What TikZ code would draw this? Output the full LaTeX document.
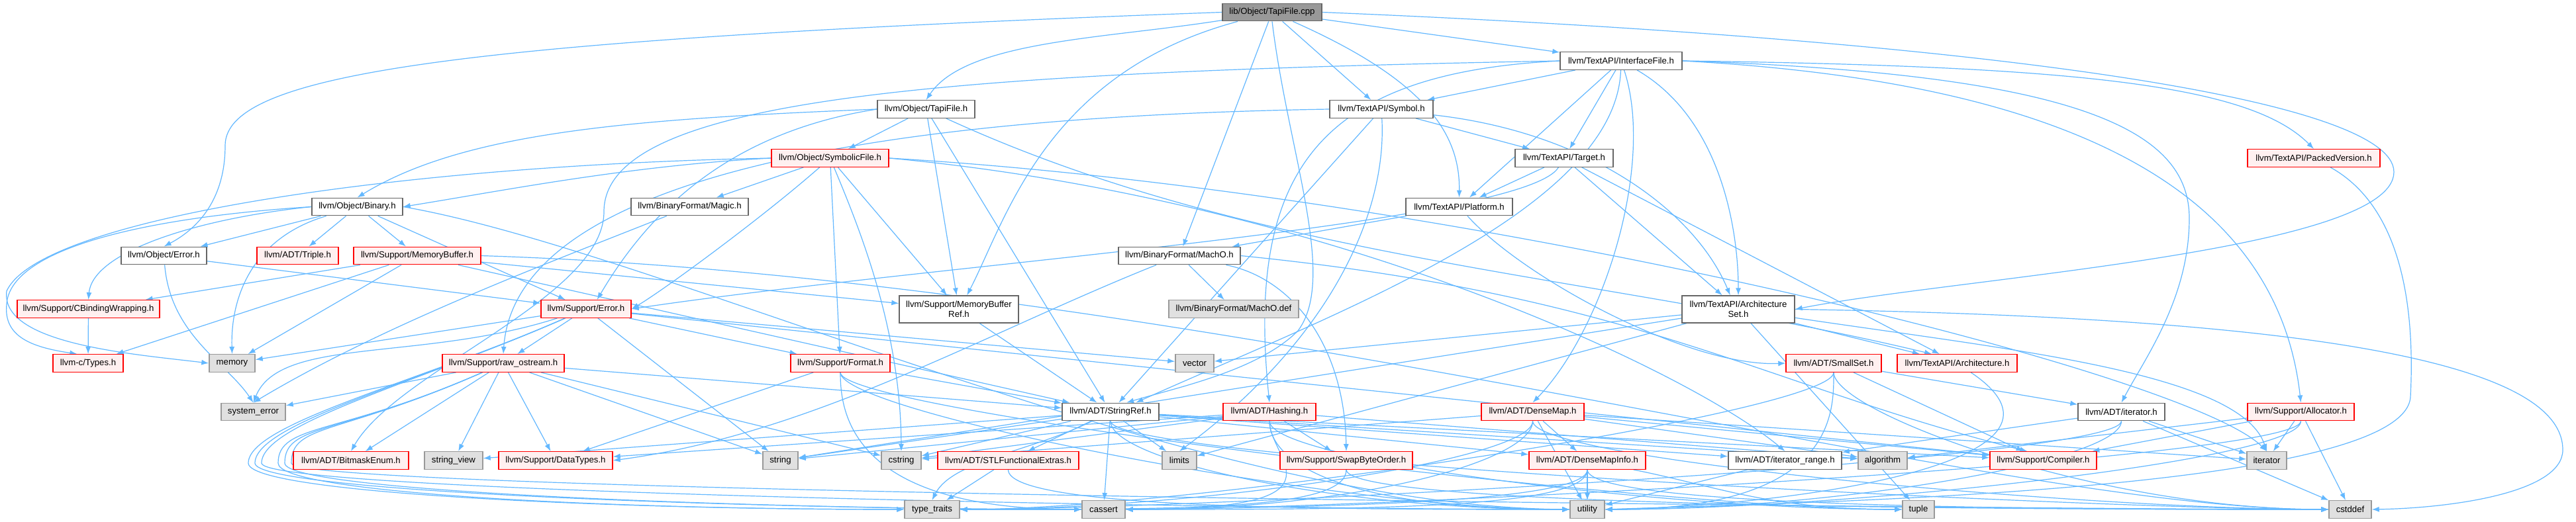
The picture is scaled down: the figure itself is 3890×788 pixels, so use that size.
\documentclass[tikz,border=0pt]{standalone}
\usepackage{fontspec}
\setmainfont{Liberation Sans}
\usetikzlibrary{arrows.meta}
\definecolor{edgeblue}{RGB}{99,184,255}
\definecolor{redfill}{HTML}{FFF0F0}
\definecolor{grayfill}{HTML}{E0E0E0}
\definecolor{grayline}{HTML}{999999}
\definecolor{darkline}{HTML}{666666}
\definecolor{rootfill}{HTML}{999999}
\definecolor{redline}{HTML}{FF0000}
\pgfdeclarelayer{bg}
\pgfsetlayers{bg,main}
\tikzset{
  nb/.style={draw, rectangle, inner sep=0pt, minimum height=26.5pt, align=center,
    font=\fontsize{13.2}{15}\selectfont, line width=1.4pt, text=black},
  nwhite/.style={nb, fill=white, draw=darkline},
  nred/.style={nb, fill=redfill, draw=redline},
  ngray/.style={nb, fill=grayfill, draw=grayline},
  nroot/.style={nb, fill=rootfill, draw=darkline},
  edg/.style={draw=edgeblue, line width=1.2pt, -{Latex[length=11pt,width=8pt]}},
}
\newcommand{\edgeW}[2]{\draw[edg] (#1.south) .. controls +(0,-60) and +(-350,0) .. (#2.west);}
\newcommand{\edgeE}[2]{\draw[edg] (#1.south) .. controls +(0,-60) and +(350,0) .. (#2.east);}
\newcommand{\edgeLoop}[3]{\draw[edg] (#1) .. controls +(-250,-110) and (#3,-640) .. (#3,-700) .. controls (#3,-745) and +(-450,0) .. (#2.west);}
\begin{document}
\begin{tikzpicture}[x=1pt,y=1pt]
\useasboundingbox (0,0) rectangle (3890,-788);
% nodes
\node[nroot, minimum width=150] (cpp) at (1921,-18.5) {lib/Object/TapiFile.cpp};
\node[nwhite, minimum width=184] (ifile) at (2448,-92) {llvm/TextAPI/InterfaceFile.h};
\node[nwhite, minimum width=147] (tapih) at (1398.5,-165) {llvm/Object/TapiFile.h};
\node[nwhite, minimum width=156] (symbol) at (2086,-165) {llvm/TextAPI/Symbol.h};
\node[nred, minimum width=177] (symfile) at (1253.5,-239) {llvm/Object/SymbolicFile.h};
\node[nwhite, minimum width=148] (target) at (2362,-239) {llvm/TextAPI/Target.h};
\node[nred, minimum width=200] (packed) at (3494,-239) {llvm/TextAPI/PackedVersion.h};
\node[nwhite, minimum width=137] (binary) at (539.5,-312.5) {llvm/Object/Binary.h};
\node[nwhite, minimum width=177] (magic) at (1041.5,-312.5) {llvm/BinaryFormat/Magic.h};
\node[nwhite, minimum width=161] (platform) at (2203.5,-312.5) {llvm/TextAPI/Platform.h};
\node[nwhite, minimum width=129] (objerr) at (247.5,-386.5) {llvm/Object/Error.h};
\node[nred, minimum width=123] (triple) at (449.5,-386.5) {llvm/ADT/Triple.h};
\node[nred, minimum width=192] (membuf) at (630,-386.5) {llvm/Support/MemoryBuffer.h};
\node[nwhite, minimum width=184] (macho) at (1781,-386.5) {llvm/BinaryFormat/MachO.h};
\node[nred, minimum width=215] (cbind) at (133.5,-467) {llvm/Support/CBindingWrapping.h};
\node[nred, minimum width=136] (superr) at (885,-467) {llvm/Support/Error.h};
\node[nwhite, minimum width=180, minimum height=41] (membufref) at (1448,-467.5) {llvm/Support/MemoryBuffer\\Ref.h};
\node[ngray, minimum width=196] (machodef) at (1863,-467) {llvm/BinaryFormat/MachO.def};
\node[nwhite, minimum width=170, minimum height=41] (archset) at (2625,-467.5) {llvm/TextAPI/Architecture\\Set.h};
\node[nred, minimum width=106] (types) at (133,-549) {llvm-c/Types.h};
\node[ngray, minimum width=69] (memory) at (350.5,-549) {memory};
\node[nred, minimum width=184] (rawos) at (760,-549) {llvm/Support/raw\_ostream.h};
\node[nred, minimum width=150] (format) at (1269,-549) {llvm/Support/Format.h};
\node[ngray, minimum width=58] (vector) at (1804,-549) {vector};
\node[nred, minimum width=144] (smallset) at (2769,-549) {llvm/ADT/SmallSet.h};
\node[nred, minimum width=181] (arch) at (2955.5,-549) {llvm/TextAPI/Architecture.h};
\node[ngray, minimum width=97] (syserr) at (382.5,-622.5) {system\_error};
\node[nwhite, minimum width=146] (stringref) at (1677,-622.5) {llvm/ADT/StringRef.h};
\node[nred, minimum width=140] (hashing) at (1917,-622.5) {llvm/ADT/Hashing.h};
\node[nred, minimum width=155] (densemap) at (2314.5,-622.5) {llvm/ADT/DenseMap.h};
\node[nwhite, minimum width=131] (iterh) at (3203.5,-622.5) {llvm/ADT/iterator.h};
\node[nred, minimum width=161] (alloc) at (3474.5,-622.5) {llvm/Support/Allocator.h};
\node[nred, minimum width=174] (bitmask) at (530,-696) {llvm/ADT/BitmaskEnum.h};
\node[ngray, minimum width=88] (strview) at (685,-696) {string\_view};
\node[nred, minimum width=172] (datatypes) at (839,-696) {llvm/Support/DataTypes.h};
\node[ngray, minimum width=53] (string) at (1178.5,-696) {string};
\node[ngray, minimum width=60] (cstring) at (1361,-696) {cstring};
\node[nred, minimum width=213] (stlfe) at (1522.5,-696) {llvm/ADT/STLFunctionalExtras.h};
\node[ngray, minimum width=52] (limits) at (1781,-696) {limits};
\node[nred, minimum width=200] (swap) at (2033,-696) {llvm/Support/SwapByteOrder.h};
\node[nred, minimum width=176] (dmi) at (2397,-696) {llvm/ADT/DenseMapInfo.h};
\node[nwhite, minimum width=171] (iterrange) at (2695.5,-696) {llvm/ADT/iterator\_range.h};
\node[ngray, minimum width=74] (algorithm) at (2843,-696) {algorithm};
\node[nred, minimum width=161] (compiler) at (3085.5,-696) {llvm/Support/Compiler.h};
\node[ngray, minimum width=60] (iterator) at (3423,-696) {iterator};
\node[ngray, minimum width=83] (typetraits) at (1407.5,-770) {type\_traits};
\node[ngray, minimum width=65] (cassert) at (1666.5,-770) {cassert};
\node[ngray, minimum width=52] (utility) at (2397,-770) {utility};
\node[ngray, minimum width=48] (tuple) at (2897,-770) {tuple};
\node[ngray, minimum width=64] (cstddef) at (3549,-770) {cstddef};
\begin{pgfonlayer}{bg}
\fill[white] (0,0) rectangle (3890,-788);
% cpp
\draw[edg] (cpp.west) .. controls (700,-60) and (340,-110) .. (340,-220) .. controls (340,-300) and (300,-345) .. (objerr.north);
\draw[edg] (cpp) .. controls +(-250,-40) and +(60,90) .. (tapih.north);
\draw[edg] (cpp) -- (macho);
\draw[edg] (cpp) .. controls (1580,-110) and (1520,-330) .. (membufref.60);
\draw[edg] (cpp.south) .. controls (1945,-230) and (2020,-420) .. (1960,-500) .. controls (1900,-560) and (1780,-585) .. (stringref.30);
\draw[edg] (cpp) -- (symbol);
\draw[edg] (cpp) .. controls (2150,-120) and (2205,-200) .. (platform.north);
\draw[edg] (cpp) -- (ifile);
\draw[edg] (cpp.east) .. controls (3000,-60) and (3615,-150) .. (3615,-260) .. controls (3615,-380) and (2950,-420) .. (archset.east);
% ifile
\draw[edg] (ifile) -- (symbol);
\draw[edg] (ifile) -- (target);
\draw[edg] (ifile) -- (platform);
\draw[edg] (ifile) .. controls (2600,-180) and (2625,-350) .. (archset.north);
\draw[edg] (ifile.east) .. controls (3150,-100) and (3400,-130) .. (packed.north);
\draw[edg] (ifile.east) .. controls (3150,-112) and (3306,-200) .. (3306,-330) .. controls (3306,-450) and (3240,-540) .. (iterh.north);
\draw[edg] (ifile.east) .. controls (3150,-125) and (3440,-300) .. (alloc.north);
\draw[edg] (ifile) .. controls (2500,-250) and (2420,-500) .. (densemap.north);
\draw[edg] (ifile) .. controls (2440,-320) and (2000,-480) .. (stringref.20);
\draw[edg] (ifile.west) .. controls (2000,-110) and (1880,-250) .. (hashing.north);
\draw[edg] (ifile.west) .. controls (1400,-110) and (912,-150) .. (912,-320) .. controls (912,-450) and (600,-560) .. (bitmask.north);
% tapih
\draw[edg] (tapih.west) .. controls (950,-180) and (700,-200) .. (binary.north);
\draw[edg] (tapih.west) .. controls (1100,-200) and (980,-320) .. (superr.40);
\draw[edg] (tapih) -- (symfile);
\draw[edg] (tapih) -- (membufref);
\draw[edg] (tapih) -- (stringref);
\draw[edg] (tapih) .. controls +(500,-230) and +(-500,120) .. (arch.160);
% symbol
\draw[edg] (symbol.west) .. controls (1400,-175) and (780,-250) .. (rawos.north);
\draw[edg] (symbol) -- (stringref);
\draw[edg] (symbol) .. controls (2095,-330) and (2000,-520) .. (limits.north);
\draw[edg] (symbol) -- (target);
\draw[edg] (symbol) .. controls (2400,-200) and (2560,-320) .. (archset.120);
% symfile
\draw[edg] (symfile.west) .. controls (950,-250) and (750,-290) .. (binary.east);
\draw[edg] (symfile.west) .. controls (600,-250) and (60,-330) .. (10,-440) .. controls (0,-520) and (200,-535) .. (memory.west);
\draw[edg] (symfile) -- (magic);
\draw[edg] (symfile) .. controls (1150,-330) and (1000,-440) .. (superr.east);
\draw[edg] (symfile) -- (format);
\draw[edg] (symfile) -- (membufref);
\draw[edg] (symfile) .. controls (1300,-350) and (1360,-500) .. (cstring.north);
\draw[edg] (symfile.east) .. controls (2000,-300) and (2550,-560) .. (iterrange.north);
\draw[edg] (symfile.east) .. controls (2200,-290) and (3300,-560) .. (iterator.north);
% binary
\draw[edg] (binary.west) .. controls (200,-330) and (15,-380) .. (10,-460) .. controls (5,-510) and (50,-525) .. (types.140);
\draw[edg] (binary.west) .. controls (300,-330) and (140,-380) .. (cbind.north);
\draw[edg] (binary) -- (objerr);
\draw[edg] (binary) -- (triple);
\draw[edg] (binary) -- (membuf);
\draw[edg] (binary) .. controls (380,-360) and (348,-450) .. (memory.north);
\draw[edg] (binary) -- (superr);
\draw[edg] (binary.east) .. controls (1000,-380) and (1800,-765) .. (utility.west);
% objerr
\draw[edg] (objerr) .. controls +(10,-120) and +(-40,60) .. (syserr.north);
\draw[edg] (objerr) -- (superr);
% membuf
\draw[edg] (membuf) -- (cbind);
\draw[edg] (membuf) -- (types);
\draw[edg] (membuf) -- (memory);
\draw[edg] (membuf) -- (membufref);
\draw[edg] (membuf) -- (stringref);
\draw[edg] (membuf.east) .. controls (1800,-420) and (3000,-770) .. (cstddef.west);
% cbind, magic
\draw[edg] (cbind) -- (types);
\draw[edg] (magic) .. controls +(-200,-80) and +(200,120) .. (syserr.north);
% superr
\draw[edg] (superr) -- (memory);
\draw[edg] (superr) .. controls +(-250,-80) and +(40,100) .. (syserr.north);
\draw[edg] (superr) -- (rawos);
\draw[edg] (superr) -- (format);
\draw[edg] (superr) -- (vector);
\draw[edg] (superr) -- (string);
\draw[edg] (superr) -- (compiler);
\edgeLoop{superr}{typetraits}{375}
\edgeLoop{superr}{cassert}{385}
\edgeLoop{superr}{utility}{395}
% rawos
\draw[edg] (rawos) -- (syserr);
\draw[edg] (rawos) -- (bitmask);
\draw[edg] (rawos) -- (strview);
\draw[edg] (rawos) -- (datatypes);
\draw[edg] (rawos) -- (string);
\draw[edg] (rawos) -- (cstring);
\draw[edg] (rawos) -- (stringref);
\edgeLoop{rawos}{typetraits}{420}
\edgeLoop{rawos}{cassert}{430}
\edgeLoop{rawos}{cstddef}{440}
% format
\draw[edg] (format) -- (stringref);
\draw[edg] (format) -- (datatypes);
\edgeW{format}{cassert}
\edgeW{format}{utility}
\edgeW{format}{tuple}
% membufref
\draw[edg] (membufref) -- (stringref);
% macho
\draw[edg] (macho) -- (machodef);
\draw[edg] (macho) .. controls +(-300,-120) and +(300,40) .. (datatypes.east);
\draw[edg] (macho) .. controls (1950,-420) and (2030,-520) .. (swap.north);
\draw[edg] (macho.east) .. controls +(600,-60) and +(-400,100) .. (compiler.150);
% platform
\draw[edg] (platform) -- (macho);
\draw[edg] (platform) .. controls (2300,-420) and (2550,-555) .. (smallset.west);
% target
\draw[edg] (target) -- (platform);
\draw[edg] (target) .. controls (2300,-340) and (1400,-400) .. (superr.east);
\draw[edg] (target) -- (archset);
\draw[edg] (target) -- (arch);
% packed
\draw[edg] (packed) .. controls (3640,-320) and (3645,-500) .. (3640,-600) .. controls (3630,-745) and (2700,-760) .. (utility.east);
% archset
\draw[edg] (archset) -- (arch);
\draw[edg] (archset) -- (vector);
\draw[edg] (archset) -- (string);
\draw[edg] (archset) -- (limits);
\draw[edg] (archset.east) .. controls (3500,-480) and (3870,-550) .. (3870,-680) .. controls (3870,-745) and (3700,-768) .. (cstddef.east);
\draw[edg] (archset) .. controls +(400,-60) and +(-40,120) .. (iterator.north);
\draw[edg] (archset) -- (tuple);
% smallset
\draw[edg] (smallset) -- (iterh);
\draw[edg] (smallset) -- (compiler);
\edgeW{smallset}{cstddef}
\edgeE{smallset}{typetraits}
\edgeE{smallset}{utility}
% arch
\draw[edg] (arch) .. controls (3180,-700) and (2700,-765) .. (utility.east);
% stringref
\draw[edg] (stringref) -- (stlfe);
\draw[edg] (stringref) -- (cassert);
\draw[edg] (stringref) -- (limits);
\draw[edg] (stringref) -- (cstring);
\draw[edg] (stringref) -- (string);
\draw[edg] (stringref) -- (strview);
\draw[edg] (stringref) .. controls +(-120,-60) and +(30,60) .. (typetraits.north);
\draw[edg] (stringref) -- (dmi);
\draw[edg] (stringref) -- (iterrange);
\draw[edg] (stringref) -- (algorithm);
\draw[edg] (stringref) -- (compiler);
\edgeW{stringref}{utility}
\edgeW{stringref}{cstddef}
% stlfe
\draw[edg] (stlfe) -- (typetraits);
\edgeW{stlfe}{utility}
% hashing
\draw[edg] (hashing) -- (datatypes);
\draw[edg] (hashing) -- (swap);
\draw[edg] (hashing) -- (algorithm);
\draw[edg] (hashing) -- (cstring);
\draw[edg] (hashing) -- (string);
\edgeE{hashing}{cassert}
\edgeW{hashing}{tuple}
\edgeW{hashing}{utility}
% densemap
\draw[edg] (densemap) -- (dmi);
\draw[edg] (densemap) -- (compiler);
\draw[edg] (densemap) -- (algorithm);
\draw[edg] (densemap) -- (cstring);
\draw[edg] (densemap) -- (iterator);
\draw[edg] (densemap) -- (utility);
\edgeE{densemap}{typetraits}
\edgeE{densemap}{cassert}
\edgeW{densemap}{cstddef}
% dmi
\draw[edg] (dmi) -- (utility);
\edgeE{dmi}{typetraits}
\edgeE{dmi}{cassert}
\draw[edg] (dmi) .. controls +(200,-40) and +(-200,0) .. (tuple.west);
\edgeW{dmi}{cstddef}
% swap
\edgeE{swap}{typetraits}
\edgeW{swap}{cstddef}
% iterrange
\draw[edg] (iterrange) -- (utility);
% iterh
\draw[edg] (iterh) -- (iterrange);
\draw[edg] (iterh) -- (iterator);
\draw[edg] (iterh) -- (cstddef);
\edgeE{iterh}{typetraits}
\edgeE{iterh}{utility}
% alloc
\draw[edg] (alloc) -- (compiler);
\draw[edg] (alloc) -- (iterator);
\draw[edg] (alloc) -- (cstddef);
\draw[edg] (alloc) -- (algorithm);
\edgeE{alloc}{utility}
\edgeE{alloc}{cassert}
\end{pgfonlayer}
\end{tikzpicture}
\end{document}
